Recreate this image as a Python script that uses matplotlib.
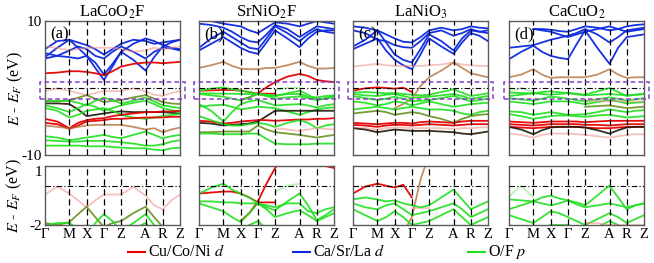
import numpy as np
import matplotlib
matplotlib.use("Agg")
import matplotlib.pyplot as plt
from matplotlib.lines import Line2D
from matplotlib.patches import Rectangle

plt.rcParams["font.family"] = ["Liberation Serif", "DejaVu Serif"]
plt.rcParams["mathtext.fontset"] = "stix"

nan = np.nan

# k-path: Γ-M-X-Γ-Z-A-R-Z, segment lengths in units of 2π/a (c ~ a)
seg_len = [np.sqrt(2), 1, 1, 1, np.sqrt(2), 1, 1]
kpt_labels = ["Γ", "M", "X", "Γ", "Z", "A", "R", "Z"]
kpt_pos = np.concatenate([[0], np.cumsum(seg_len)])
# sample points: every high-symmetry point plus the middle of each segment
kgrid = np.sort(np.concatenate([kpt_pos, (kpt_pos[:-1] + kpt_pos[1:]) / 2]))

titles = ["LaCoO$_2$F", "SrNiO$_2$F", "LaNiO$_3$", "CaCuO$_2$"]
panel_tags = ["(a)", "(b)", "(c)", "(d)"]

# band energies (eV) read at the 15 k samples, with dominant character
lacoo2f_bands = [
    ("b", [5.8, 7.0, 7.2, 6.0, 4.8, 3.0, 1.2, 3.2, 5.4, 4.2, 2.6, 4.6, 6.2, 6.8, 7.2]),
    ("b", [4.6, 6.0, 7.2, 6.8, 6.4, 5.8, 5.0, 5.8, 6.6, 7.2, 7.0, 6.6, 6.8, 7.0, 7.2]),
    ("b", [4.4, 4.8, 5.6, 6.2, 5.8, 4.8, 4.4, 5.4, 6.2, 5.4, 4.4, 5.4, 6.0, 5.9, 5.6]),
    ("b", [5.2, 4.8, 4.6, 4.4, 4.8, 3.8, 2.0, 3.6, 5.4, 6.6, 7.4, 7.0, 6.4, 6.0, 5.8]),
    ("pr", [6.2, 6.0, 5.6, 5.8, 6.0, 6.0, 6.0, 6.0, 5.8, 5.4, 5.6, 6.0, 5.8, 6.0, 6.2]),
    ("r", [2.2, 2.3, 2.5, 2.5, 2.4, 2.2, 1.9, 2.5, 3.2, 3.6, 3.8, 3.8, 3.7, 3.8, 3.9]),
    ("pr", [-0.45, -0.05, -0.4, -0.75, -1.1, -0.75, -0.45, -0.45, -0.45, -0.05, -0.5, -1.0, -1.2, -0.75, -0.45]),
    ("ol", [-1.9, -2.0, -1.85, -1.45, -1.07, -1.6, -2.1, -1.9, -1.8, -1.4, -1.07, -1.6, -2.1, -2.3, -2.4]),
    ("g", [-2.0, -1.9, -1.9, -2.2, -2.6, -1.9, -1.45, -1.8, -2.3, -1.9, -1.45, -2.0, -2.6, -2.8, -3.0]),
    ("k", [-2.3, -2.3, -2.4, -3.2, -4.2, -4.0, -3.8, -3.6, -3.5, -3.6, -3.6, -3.6, -3.6, -3.7, -3.8]),
    ("g", [-2.6, -3.0, -3.6, -3.0, -2.4, -2.8, -3.4, -3.0, -2.6, -2.2, -1.9, -2.4, -3.0, -3.3, -3.6]),
    ("g", [-3.0, -3.4, -4.4, -4.0, -3.4, -3.2, -3.0, -3.4, -4.0, -4.4, -4.6, -4.4, -4.2, -4.0, -3.9]),
    ("r", [-4.6, -5.0, -6.0, -5.2, -4.8, -4.6, -4.5, -4.2, -4.0, -3.8, -3.6, -3.6, -3.5, -3.5, -3.4]),
    ("r", [-5.2, -5.4, -6.1, -5.6, -5.0, -4.9, -4.8, -4.6, -4.6, -4.5, -4.4, -4.4, -4.4, -4.3, -4.3]),
    ("br", [-5.6, -5.8, -6.0, -5.8, -5.6, -5.5, -5.5, -5.5, -5.5, -5.8, -6.2, -6.0, -6.6, -6.2, -5.9]),
    ("g", [-7.2, -7.4, -7.8, -7.6, -7.4, -7.2, -7.0, -7.3, -7.5, -7.0, -6.5, -7.0, -7.5, -7.2, -7.0]),
    ("g", [-7.8, -7.9, -8.0, -8.0, -7.9, -7.9, -7.9, -8.0, -8.1, -8.3, -8.6, -8.6, -8.4, -8.0, -7.8]),
    ("g", [-8.6, -8.6, -8.6, -8.6, -8.7, -8.7, -8.7, -8.8, -8.9, -9.0, -9.0, -9.2, -9.3, -9.0, -8.9]),
]

srnio2f_bands = [
    ("b", [5.6, 6.6, 7.6, 6.8, 6.0, 5.4, 5.1, 6.8, 8.6, 7.4, 6.1, 7.4, 8.4, 8.6, 8.6]),
    ("b", [6.0, 7.4, 8.4, 7.6, 6.8, 6.0, 5.8, 7.4, 9.2, 8.2, 7.0, 8.0, 8.8, 8.4, 8.2]),
    ("b", [9.6, 9.4, 9.0, 8.4, 7.6, 7.0, 6.8, 8.0, 9.4, 8.8, 7.6, 8.4, 9.2, 9.0, 8.8]),
    ("b", [10.2, 10.0, 9.6, 9.4, 9.2, 8.6, 8.2, 9.0, 9.8, 9.6, 9.2, 9.6, 10.0, 9.8, 9.6]),
    ("br", [3.0, 3.4, 3.9, 3.3, 2.9, 2.8, 2.8, 3.0, 3.0, 3.4, 3.9, 3.3, 2.9, 2.9, 3.0]),
    ("r", [nan, nan, nan, nan, -1.8, -1.4, -0.8, 0.1, 0.9, 1.7, 2.1, 1.8, 1.2, 1.0, 0.9]),
    ("r", [-0.4, -0.35, -0.3, -0.3, -0.4, -0.6, -0.85, -0.85, -0.85, nan, nan, nan, nan, nan, nan]),
    ("g", [-0.4, -0.1, 0.1, -0.2, -0.4, -0.6, -0.9, -1.1, -1.25, -0.8, -0.4, -1.0, -1.75, -1.5, -1.2]),
    ("g", [-0.8, -0.8, -0.85, -0.85, -0.9, -0.9, -0.9, -1.0, -1.1, -0.9, -0.9, -1.3, -1.4, -1.2, -1.1]),
    ("g", [-0.9, -1.1, -1.3, -1.6, -1.85, -1.4, -0.9, -1.2, -1.6, -1.4, -1.25, -1.5, -1.8, -1.6, -1.4]),
    ("pg", [nan, nan, nan, nan, nan, nan, nan, nan, -0.3, 0.0, 0.1, nan, nan, nan, nan]),
    ("g", [-2.4, -3.4, -5.0, -3.6, -2.4, -2.0, -1.8, -2.2, -2.6, -2.5, -2.4, -2.6, -2.9, -2.6, -2.4]),
    ("g", [-2.8, -2.6, -2.5, -2.8, -3.2, -3.0, -2.8, -2.9, -3.0, -3.5, -4.0, -3.6, -3.2, -3.0, -2.9]),
    ("k", [-5.2, -5.3, -5.6, -5.5, -5.4, -5.3, -5.0, -4.2, -3.4, -3.4, -3.4, -3.4, -3.4, -3.4, -3.4]),
    ("r", [-4.9, -5.0, -5.3, -5.2, -5.0, -4.9, -4.8, -4.8, -4.9, -4.8, -4.7, -4.7, -4.6, -4.6, -4.5]),
    ("g", [-4.2, -4.8, -5.4, -5.6, -5.6, -5.4, -5.2, -5.4, -5.8, -5.2, -4.8, -5.2, -6.0, -5.6, -5.4]),
    ("ol", [-6.6, -6.6, -6.5, -6.5, -6.5, -6.5, -5.6, -6.2, -6.6, -6.8, -7.0, -7.2, -7.4, -7.2, -7.0]),
    ("pr", [nan, nan, nan, nan, nan, nan, nan, nan, -6.0, -6.2, -6.4, -6.2, -6.0, -6.1, -6.2]),
    ("g", [-6.8, -6.8, -6.9, -6.9, -6.9, -6.8, -6.8, -7.6, -8.3, -8.4, -8.4, -8.4, -8.3, -8.3, -8.3]),
]

lanio3_bands = [
    ("b", [5.8, 6.6, 7.4, 5.6, 4.2, 3.4, 2.8, 5.0, 7.4, 6.2, 5.1, 6.8, 8.2, 7.8, 7.0]),
    ("b", [6.2, 7.2, 8.6, 6.8, 5.0, 4.2, 3.8, 5.8, 8.0, 7.0, 5.6, 7.4, 8.6, 8.4, 8.2]),
    ("b", [8.6, 8.2, 7.2, 7.0, 6.4, 6.1, 6.0, 7.0, 8.2, 8.6, 7.8, 8.2, 8.8, 8.4, 8.6]),
    ("b", [9.2, 9.0, 8.6, 8.0, 7.4, 6.9, 6.8, 7.6, 8.6, 9.0, 8.6, 8.8, 9.2, 9.0, 8.9]),
    ("pr", [3.2, 3.4, 3.6, 3.4, 3.3, 3.3, 3.3, 3.3, 3.4, 3.5, 3.8, 3.5, 3.4, 3.3, 3.3]),
    ("br", [nan, nan, nan, nan, -3.0, -2.4, -1.6, 0.3, 1.6, 2.6, 3.8, 3.0, 2.2, 1.9, 1.6]),
    ("r", [-0.4, -0.05, 0.1, 0.0, -0.1, 0.05, -0.6, nan, nan, nan, nan, nan, nan, nan, nan]),
    ("pr", [nan, nan, nan, nan, nan, nan, -1.15, -1.15, -1.15, nan, nan, nan, nan, nan, nan]),
    ("g", [-0.7, -0.6, -0.7, -0.8, -0.75, -0.9, -1.0, -1.1, -1.0, -0.6, -0.2, -0.7, -1.2, -1.0, -0.8]),
    ("g", [-0.9, -1.1, -1.2, -1.0, -0.9, -1.2, -1.5, -1.4, -1.3, -1.1, -0.9, -1.2, -1.6, -1.4, -1.2]),
    ("g", [-1.2, -1.5, -1.8, -1.6, -1.3, -1.6, -2.0, -1.9, -1.8, -1.5, -1.2, -1.6, -2.0, -1.8, -1.6]),
    ("g", [-2.0, -2.2, -2.6, -2.4, -2.0, -2.2, -2.6, -2.3, -2.0, -2.4, -2.8, -2.6, -2.4, -2.3, -2.2]),
    ("g", [-3.2, -3.0, -2.8, -3.0, -3.2, -3.0, -2.8, -3.0, -3.2, -3.2, -3.4, -3.8, -4.0, -3.6, -3.4]),
    ("ol", [-3.8, -3.6, -3.4, -3.6, -4.0, -3.8, -3.6, -3.8, -4.2, -4.6, -5.2, -4.6, -4.2, -4.0, -3.9]),
    ("r", [-5.2, -5.3, -5.4, -5.3, -5.2, -5.2, -5.3, -5.1, -5.0, -5.1, -5.2, -5.0, -4.9, -4.9, -4.9]),
    ("r", [-5.5, -5.6, -5.8, -5.6, -5.5, -5.5, -5.6, -5.5, -5.4, -5.5, -5.6, -5.5, -5.4, -5.4, -5.4]),
    ("pr", [-5.9, -6.0, -6.2, -6.0, -5.9, -5.9, -6.0, -6.0, -6.0, -6.0, -6.1, -6.0, -6.0, -5.9, -5.9]),
    ("k", [-6.0, -6.2, -6.6, -6.4, -6.2, -6.3, -6.4, -6.4, -6.4, -6.5, -6.6, -6.8, -6.9, -6.7, -6.5]),
]

cacuo2_bands = [
    ("b", [4.3, 5.4, 6.3, 5.4, 4.8, 4.5, 4.3, 6.5, 8.6, 6.0, 3.6, 6.0, 7.6, 7.8, 8.0]),
    ("b", [6.0, 6.2, 6.4, 6.8, 7.2, 7.5, 7.8, 8.2, 8.8, 8.0, 6.8, 7.6, 8.6, 8.8, 9.0]),
    ("b", [nan, nan, 8.8, 8.6, 8.4, 8.0, 7.6, 8.0, 8.4, 8.8, 9.2, 8.8, 8.4, 8.6, 8.8]),
    ("b", [nan, nan, 8.8, 8.8, 8.7, 8.5, 8.4, 8.8, 9.2, 9.0, 8.6, 8.8, 9.2, 9.4, 9.5]),
    ("br", [1.6, 2.0, 2.8, 2.0, 1.5, 1.6, 1.6, 1.6, 1.6, 2.0, 2.8, 2.0, 1.5, 1.6, 1.6]),
    ("pg", [-0.55, 0.0, -0.6, nan, nan, nan, nan, nan, nan, nan, nan, nan, nan, nan, nan]),
    ("g", [-0.7, -0.75, -0.8, -0.6, -0.5, -0.65, -0.75, -0.85, -1.0, -0.5, 0.0, -0.6, -1.2, -1.0, -0.9]),
    ("g", [-1.2, -1.0, -0.8, -0.9, -1.0, -0.9, -0.75, -0.95, -1.1, -1.0, -0.9, -1.0, -1.1, -1.0, -0.9]),
    ("g", [-1.5, -1.7, -1.9, -1.6, -1.3, -1.4, -1.6, -1.8, -2.0, -1.7, -1.4, -1.6, -1.9, -1.7, -1.5]),
    ("g", [-2.0, -2.2, -2.4, -2.2, -2.0, -2.0, -2.0, -2.2, -2.4, -2.1, -1.8, -2.0, -2.3, -2.2, -2.1]),
    ("pr", [nan, nan, nan, nan, nan, nan, nan, nan, -1.9, -1.9, -2.0, -2.0, -2.0, -2.0, -2.0]),
    ("ol", [nan, nan, nan, nan, nan, nan, nan, nan, -2.8, -2.7, -2.6, -2.8, -3.0, -2.9, -2.8]),
    ("g", [-3.5, -3.6, -4.0, -3.8, -3.6, -3.8, -4.0, -4.0, -3.9, -3.6, -3.2, -3.4, -3.6, -3.4, -3.3]),
    ("g", [-3.9, -4.2, -4.6, -4.4, -4.2, -4.1, -4.1, -4.2, -4.3, -4.1, -4.0, -4.2, -4.4, -4.3, -4.2]),
    ("r", [-5.0, -5.1, -5.2, -5.1, -5.0, -5.0, -5.0, -5.0, -5.1, -5.0, -4.9, -4.9, -4.9, -4.9, -4.9]),
    ("r", [-5.4, -5.5, -5.6, -5.5, -5.4, -5.4, -5.4, -5.4, -5.5, -5.5, -5.6, -5.5, -5.4, -5.4, -5.4]),
    ("r", [-5.8, -5.9, -6.0, -5.9, -5.8, -5.8, -5.8, -5.8, -5.9, -6.0, -6.0, -5.9, -5.8, -5.8, -5.8]),
    ("k", [-5.8, -6.2, -6.9, -6.3, -5.9, -5.8, -5.8, -5.8, -5.9, -6.3, -6.8, -6.3, -5.9, -5.8, -5.8]),
    ("pr", [-6.8, -7.0, -7.4, -7.0, -6.8, -6.8, -6.8, -6.9, -7.0, -7.2, -7.4, -7.2, -7.0, -6.9, -6.9]),
]

all_bands = [lacoo2f_bands, srnio2f_bands, lanio3_bands, cacuo2_bands]

# character -> (colour, alpha)
styles = {
    "r": ("#e60000", 0.95),
    "b": ("#0a28e0", 0.95),
    "g": ("#1ee01e", 0.9),
    "k": ("#1e1a05", 0.9),
    "br": ("#b06a30", 0.75),
    "ol": ("#5f8a12", 0.85),
    "pr": ("#ee8f85", 0.55),
    "pg": ("#8ee88a", 0.6),
}

legend_labels = ["Cu/Co/Ni $d$", "Ca/Sr/La $d$", "O/F $p$"]
legend_colors = ["#e60000", "#0a28e0", "#1ee01e"]

W, H = 654, 263
fig = plt.figure(figsize=(W / 100, H / 100), dpi=100)

lefts = [45, 199, 353, 509]
pw = 135
top_box = (21, 155)
bot_box = (166, 225)


def make_ax(x0, y0, y1):
    return fig.add_axes([x0 / W, 1 - y1 / H, pw / W, (y1 - y0) / H])


def style_ax(ax, ylim):
    ax.set_xlim(kpt_pos[0], kpt_pos[-1])
    ax.set_ylim(*ylim)
    for x in kpt_pos[1:-1]:
        ax.axvline(x, color="k", ls=(0, (5, 3)), lw=0.9, zorder=3)
    ax.axhline(0, color="k", ls=(0, (5, 2, 1, 2)), lw=0.8, zorder=3)
    for s in ax.spines.values():
        s.set_color("#5a5a5a")
        s.set_linewidth(1.0)
    ax.tick_params(length=0, labelsize=11, pad=2)


for i in range(4):
    ax_t = make_ax(lefts[i], *top_box)
    ax_b = make_ax(lefts[i], *bot_box)
    for ax, ylim in ((ax_t, (-10, 10)), (ax_b, (-2, 1))):
        for char, e in all_bands[i]:
            c, a = styles[char]
            ax.plot(kgrid, e, color=c, alpha=a, lw=1.3, zorder=2)
        style_ax(ax, ylim)

    ax_t.set_xticks([])
    ax_b.set_xticks(kpt_pos)
    ax_b.set_xticklabels(kpt_labels, fontsize=10.5)
    if i == 0:
        ax_t.set_yticks([-10, 10])
        ax_t.set_yticklabels(["-10", "10"])
        ax_b.set_yticks([-2, 1])
        ax_b.set_yticklabels(["-2", "1"])
        ax_b.get_yticklabels()[1].set_va("top")
        ax_t.set_ylabel("$E$ - $E_F$ (eV)", fontsize=11.5, labelpad=-2)
        ax_b.set_ylabel("$E$ - $E_F$ (eV)", fontsize=11.5, labelpad=4)
    else:
        ax_t.set_yticks([])
        ax_b.set_yticks([])

    ax_t.set_title(titles[i], fontsize=12, pad=3)
    ax_t.text(0.04, 0.96, panel_tags[i], transform=ax_t.transAxes,
              fontsize=12, va="top", ha="left", zorder=5)

    # dashed window marking the zoomed energy range
    box = Rectangle((-0.04, -1.6), 1.08, 2.5, transform=ax_t.get_yaxis_transform(),
                    fill=False, ec="#8a3fc8", ls=(0, (3, 2)), lw=1.1,
                    clip_on=False, zorder=6)
    ax_t.add_patch(box)

# legend row drawn by hand so the entries sit where the original has them
leg_x = [128, 293, 468]
leg_y = 1 - 252 / H
for x0, c, lab in zip(leg_x, legend_colors, legend_labels):
    fig.add_artist(Line2D([x0 / W, (x0 + 17) / W], [leg_y, leg_y],
                          transform=fig.transFigure, color=c, lw=1.5))
    fig.text((x0 + 20) / W, leg_y, lab, fontsize=11.5, va="center", ha="left")

fig.savefig("out.png", dpi=100)
